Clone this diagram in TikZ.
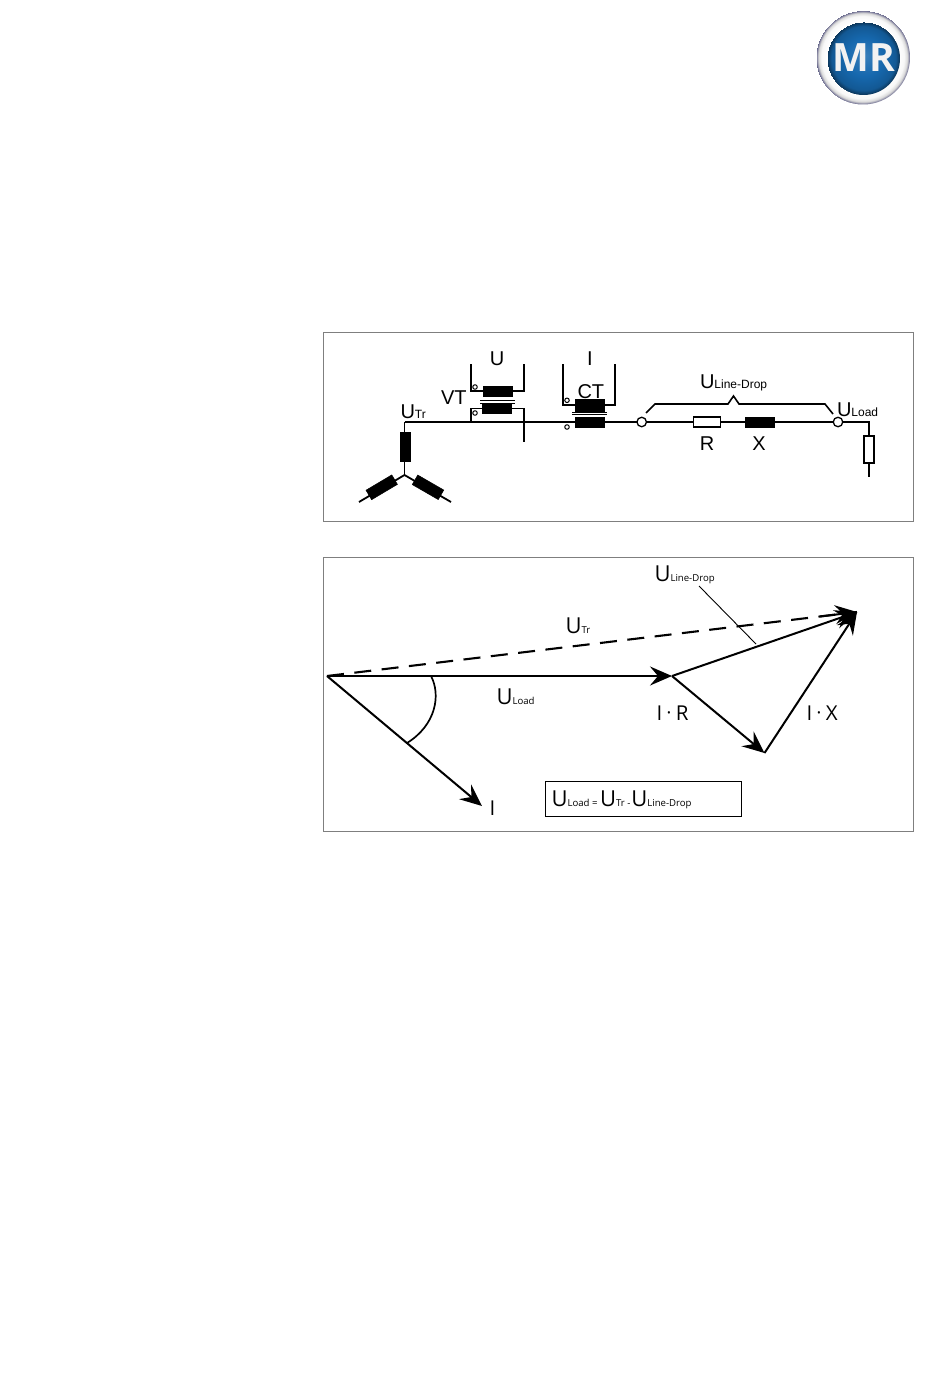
\documentclass[tikz,border=0pt]{standalone}
\usepackage{fontspec}
\setmainfont{Liberation Sans}
\newfontfamily\vecfont{Open Sans}
\newfontfamily\logofont{Open Sans}
\usetikzlibrary{arrows.meta,calc}
\newcommand{\upperU}[2]{{\fontsize{20}{20}\selectfont #1}{\fontsize{12}{12}\selectfont #2}}
\newcommand{\lowerU}[2]{{\vecfont\fontsize{22}{22}\selectfont #1}{\vecfont\fontsize{9.6}{9.6}\selectfont #2}}
\newcommand{\vecbig}[1]{{\vecfont\fontsize{20.5}{20.5}\selectfont #1}}
\newcommand{\vecdot}{\hspace{5pt}\raisebox{3.5pt}{\fontsize{10}{10}\selectfont\textbullet}\hspace{5pt}}
\definecolor{framegray}{HTML}{7F7F7F}
\definecolor{mrblue}{HTML}{1668AE}
\pgfdeclareradialshading{logoring}{\pgfpoint{-1bp}{1bp}}{%
  color(0bp)=(white); color(19bp)=(white); color(22bp)=(white!94!gray); color(23.6bp)=(white!70!gray); color(25bp)=(black!55!white!85!blue)}
\pgfdeclareradialshading{logoblue}{\pgfpoint{1bp}{2bp}}{%
  color(0bp)=(mrblue!85!white); color(13bp)=(mrblue); color(22bp)=(mrblue!85!black); color(25bp)=(mrblue!50!black)}
\tikzset{
  frame/.style={draw=framegray,line width=1pt},
  wire/.style={draw=black,line width=1.8pt},
  coil/.style={draw=black,fill=black,line width=0.5pt,inner sep=0pt,outer sep=0pt,minimum width=29pt,minimum height=10pt},
  resistor/.style={draw=black,fill=white,line width=1.9pt,inner sep=0pt,outer sep=0pt,minimum width=27pt,minimum height=10pt},
  terminal/.style={circle,draw=black,fill=white,line width=1.3pt,inner sep=0pt,outer sep=0pt,minimum size=9.5pt},
  dotmark/.style={circle,draw=black,fill=white,line width=1pt,inner sep=0pt,outer sep=0pt,minimum size=4.5pt},
  txt/.style={anchor=base west,inner sep=0pt,outer sep=0pt},
  ctxt/.style={anchor=base,inner sep=0pt,outer sep=0pt},
  phasorhead/.style={-{Stealth[length=22pt,width=19pt,inset=8pt]}},
  phasor/.style={draw=black,line width=2pt,phasorhead},
  plainline/.style={draw=black,line width=2.1pt},
}
\begin{document}
\begin{tikzpicture}[x=1pt,y=-1pt]
\path[use as bounding box,fill=white] (0,0) rectangle (950,1378);

% logo
\shade[shading=logoring] (863,57.5) circle (47);
\shade[shading=logoblue] (863.5,58.5) circle (36.5);
\node[inner sep=0pt,text=white!90!gray] (logotext) at (863.5,58) {\logofont\bfseries\fontsize{39}{39}\selectfont MR};

% frames
\node[frame,anchor=north west,inner sep=0pt,minimum width=590pt,minimum height=189pt] (frameA) at (323,332) {};
\node[frame,anchor=north west,inner sep=0pt,minimum width=590pt,minimum height=274pt] (frameB) at (323,557) {};

% --- circuit
\coordinate (star) at (404.5,475);
\coordinate (legL) at (359,502);
\coordinate (legR) at (451,502);
\coordinate (top) at (404.5,422);
\coordinate (vtTap) at (470.7,422);
\node[terminal] (t1) at (641.7,422) {};
\node[terminal] (t2) at (838,422) {};
\path[wire] (top) -- (t1);
\path[wire] (t1) -- (t2);
\path[wire] (top) -- (star);
\path[wire] (star) -- (legL);
\path[wire] (star) -- (legR);
\node[coil,minimum width=29pt,minimum height=10pt,rotate=90] (gTop) at (405,447) {};
\node[coil,minimum width=30pt,minimum height=11pt,rotate=30.7] (gL) at (381.7,487.3) {};
\node[coil,minimum width=30pt,minimum height=11pt,rotate=-30] (gR) at (428,487.3) {};

% VT
\coordinate (vtA) at (470.7,364);
\coordinate (vtAk) at (470.7,391);
\coordinate (vtB) at (524,364);
\coordinate (vtBk) at (524,391);
\coordinate (vtCk) at (470.7,408.5);
\coordinate (vtDk) at (524,408.5);
\coordinate (vtD) at (524,441.6);
\path[wire] (vtA) -- (vtAk) -- (vtBk) -- (vtB);
\path[wire] (vtTap) -- (vtCk) -- (vtDk) -- (vtD);
\node[coil] (vtU) at (497.5,391) {};
\node[coil] (vtL) at (497,408.7) {};
\coordinate (vb1a) at (480,400); \coordinate (vb1b) at (515,400);
\coordinate (vb2a) at (480,403); \coordinate (vb2b) at (515,403);
\path[draw=black,line width=0.9pt] (vb1a) -- (vb1b);
\path[draw=black,line width=0.9pt] (vb2a) -- (vb2b);
\node[dotmark] (vd1) at (475,387) {};
\node[dotmark] (vd2) at (475,413) {};

% CT
\coordinate (ctA) at (562.7,364);
\coordinate (ctAk) at (562.7,405);
\coordinate (ctB) at (615,364);
\coordinate (ctBk) at (615,405);
\path[wire] (ctA) -- (ctAk) -- (ctBk) -- (ctB);
\node[coil,minimum height=11.5pt] (ctU) at (589.5,405) {};
\node[coil] (ctL) at (589.5,422) {};
\coordinate (cb1a) at (572,412); \coordinate (cb1b) at (607,412);
\coordinate (cb2a) at (572,414.3); \coordinate (cb2b) at (607,414.3);
\path[draw=black,line width=0.9pt] (cb1a) -- (cb1b);
\path[draw=black,line width=0.9pt] (cb2a) -- (cb2b);
\node[dotmark] (cd1) at (567,400.3) {};
\node[dotmark] (cd2) at (567,427) {};

% line elements
\node[resistor] (rbox) at (707,422.3) {};
\node[coil] (xbox) at (759.7,422.5) {};
\coordinate (loadK) at (869,422);
\coordinate (loadE) at (869,476.7);
\path[wire] (t2) -- (loadK) -- (loadE);
\node[resistor,rotate=90] (lbox) at (869,449.5) {};

% brace
\coordinate (b0) at (646,413); \coordinate (b1) at (655,404);
\coordinate (b2) at (728,404); \coordinate (b3) at (733.5,396);
\coordinate (b4) at (739,404); \coordinate (b5) at (825,404);
\coordinate (b6) at (833,414);
\path[draw=black,line width=1.6pt] (b0) -- (b1) -- (b2) -- (b3) -- (b4) -- (b5) -- (b6);

% circuit labels
\node[ctxt] (lU) at (497,365) {\fontsize{20}{20}\selectfont U};
\node[ctxt] (lI) at (590,365) {\fontsize{20}{20}\selectfont I};
\node[txt] (lVT) at (441,404) {\fontsize{20}{20}\selectfont VT};
\node[txt] (lCT) at (577.5,398) {\fontsize{20}{20}\selectfont CT};
\node[txt] (lUTr) at (400.5,418) {\upperU{U}{Tr}};
\node[txt] (lUdrop) at (700,388) {\upperU{U}{Line-Drop}};
\node[txt] (lUload) at (837,416) {\upperU{U}{Load}};
\node[ctxt] (lR) at (707,450) {\fontsize{20}{20}\selectfont R};
\node[ctxt] (lX) at (759,450) {\fontsize{20}{20}\selectfont X};

% --- phasor diagram
\coordinate (O) at (327,676);
\coordinate (A) at (672,676);
\coordinate (B) at (764.5,753);
\coordinate (C) at (857,612);
\coordinate (D) at (482,806);
\path[plainline,dash pattern=on 17pt off 10.5pt] (O) -- (C);
\path[draw=black,phasorhead,line width=2pt] ($(C)!0.07!(O)$) -- (C);
\path[phasor] (O) -- (A);
\path[phasor] (A) -- (C);
\path[phasor] (A) -- (B);
\path[phasor] (B) -- (C);
\path[phasor] (O) -- (D);
\coordinate (arcS) at (431,676);
\coordinate (arcE) at (407,743);
\path[draw=black,line width=1.7pt] (arcS) .. controls (441,695) and (436,725) .. (arcE);
\coordinate (leadA) at (699,586);
\coordinate (leadB) at (756,644);
\path[draw=black,line width=0.9pt] (leadA) -- (leadB);

\node[txt] (vDrop) at (654.5,581) {\lowerU{U}{Line-Drop}};
\node[txt] (vTr) at (565.5,633) {\lowerU{U}{Tr}};
\node[txt] (vLoad) at (496.5,704) {\lowerU{U}{Load}};
\node[txt] (vI) at (489.5,815) {\vecbig{I}};
\node[txt] (vIR) at (656.5,720) {\vecbig{I\vecdot R}};
\node[txt] (vIX) at (806.5,720) {\vecbig{I\vecdot X}};
\node[draw=black,line width=1pt,anchor=north west,inner sep=0pt,minimum width=196pt,minimum height=35pt] (formbox) at (545,781) {};
\node[txt] (vForm) at (551.5,806) {\lowerU{U}{Load = }\lowerU{U}{Tr -\hspace{1pt}}\lowerU{U}{Line-Drop}};
\end{tikzpicture}
\end{document}
